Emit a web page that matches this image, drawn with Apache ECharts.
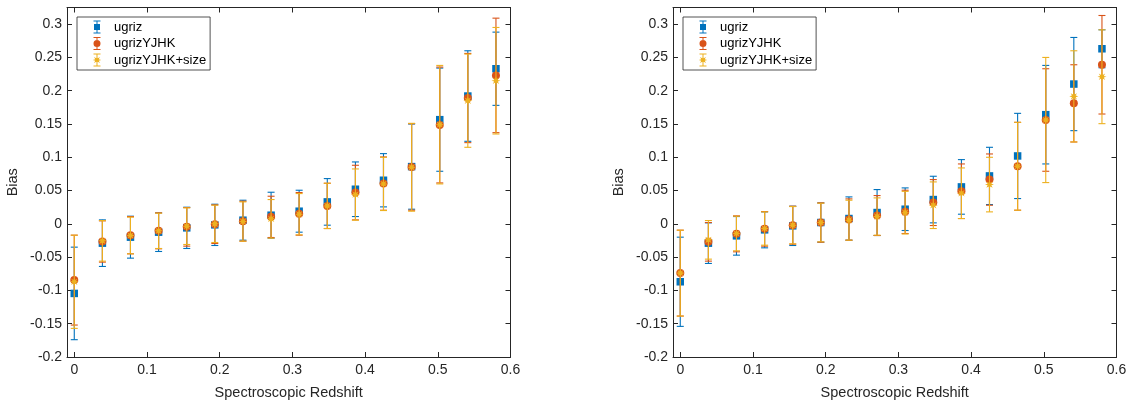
<!DOCTYPE html>
<html>
<head>
<meta charset="utf-8">
<script src="https://cdn.jsdelivr.net/npm/echarts@6/dist/echarts.min.js"></script>
<style>
html,body{margin:0;padding:0;background:#fff;}
#chart{width:1132px;height:405px;}
</style>
</head>
<body>
<div id="chart"></div>
<script>
// ---------- data ----------
const seriesNames = ['ugriz', 'ugrizYJHK', 'ugrizYJHK+size'];
const redshift = [0, 0.0387, 0.0773, 0.116, 0.1547, 0.1933, 0.232, 0.2707, 0.3093, 0.348, 0.3867, 0.4253, 0.464, 0.5027, 0.5413, 0.58];
const xTicks = [0, 0.1, 0.2, 0.3, 0.4, 0.5, 0.6];
const yTicks = [-0.2, -0.15, -0.1, -0.05, 0, 0.05, 0.1, 0.15, 0.2, 0.25, 0.3];

// left panel
const leftUgriz      = [-0.1045, -0.029, -0.02, -0.0125, -0.006, -0.0015, 0.0055, 0.013, 0.019, 0.033, 0.052, 0.0655, 0.086, 0.1565, 0.192, 0.233];
const leftUgrizErr   = [0.0695, 0.035, 0.0315, 0.029, 0.031, 0.031, 0.030, 0.0345, 0.0315, 0.035, 0.041, 0.040, 0.064, 0.0775, 0.068, 0.055];
const leftYJHK       = [-0.0845, -0.0265, -0.017, -0.0105, -0.0045, -0.0005, 0.004, 0.0105, 0.015, 0.027, 0.047, 0.0605, 0.0855, 0.1485, 0.189, 0.223];
const leftYJHKErr    = [0.0675, 0.031, 0.028, 0.027, 0.029, 0.029, 0.030, 0.031, 0.032, 0.034, 0.041, 0.040, 0.065, 0.087, 0.067, 0.086];
const leftSize       = [-0.087, -0.0255, -0.0175, -0.0105, -0.0035, 0, 0.0035, 0.0075, 0.0145, 0.027, 0.044, 0.060, 0.085, 0.149, 0.185, 0.215];
const leftSizeErr    = [0.070, 0.0305, 0.0275, 0.0265, 0.0275, 0.028, 0.0295, 0.029, 0.031, 0.034, 0.0385, 0.040, 0.066, 0.089, 0.070, 0.080];

// right panel
const rightUgriz     = [-0.087, -0.029, -0.018, -0.009, -0.003, 0.002, 0.008, 0.017, 0.022, 0.0365, 0.0555, 0.072, 0.102, 0.164, 0.21, 0.263];
const rightUgrizErr  = [0.067, 0.0305, 0.029, 0.027, 0.0295, 0.0295, 0.0325, 0.0345, 0.032, 0.035, 0.041, 0.043, 0.064, 0.074, 0.070, 0.0285];
const rightYJHK      = [-0.074, -0.027, -0.015, -0.0075, -0.002, 0.002, 0.0065, 0.0125, 0.018, 0.032, 0.049, 0.0665, 0.0865, 0.156, 0.181, 0.239];
const rightYJHKErr   = [0.0645, 0.029, 0.027, 0.026, 0.0285, 0.0295, 0.031, 0.030, 0.0325, 0.0345, 0.041, 0.0385, 0.066, 0.077, 0.058, 0.074];
const rightSize      = [-0.074, -0.024, -0.0145, -0.007, -0.002, 0.002, 0.0055, 0.011, 0.0168, 0.028, 0.046, 0.059, 0.0865, 0.156, 0.1915, 0.221];
const rightSizeErr   = [0.0645, 0.029, 0.026, 0.025, 0.028, 0.029, 0.030, 0.028, 0.032, 0.035, 0.038, 0.041, 0.066, 0.094, 0.0685, 0.0705];

// ---------- styles ----------
const colors = ['#0072BD', '#D95319', '#EDB120'];
const axisColor = '#262626';
const fontFamily = '"Liberation Sans", Arial, Helvetica, sans-serif';

function starPath(cx, cy, ro, ri, n) {
  let d = '';
  for (let k = 0; k < 2 * n; k++) {
    const r = k % 2 === 0 ? ro : ri;
    const a = -Math.PI / 2 + k * Math.PI / n;
    d += (k === 0 ? 'M' : 'L') + (cx + r * Math.cos(a)).toFixed(2) + ',' + (cy + r * Math.sin(a)).toFixed(2);
  }
  return d + 'Z';
}
const starSymbol = 'path://' + starPath(5, 5, 5, 2.2, 8);

const iconFrame = 'M0,0h0.05v0.05h-0.05Z M24,14h-0.05v-0.05h0.05Z ';
const iconBar = 'M8.5,0.5h7v1h-7Z M8.5,12.5h7v1h-7Z M11.5,1h1v12h-1Z ';
const legendIcons = [
  'path://' + iconFrame + iconBar + 'M9,4h6v6h-6Z',
  'path://' + iconFrame + iconBar + 'M15.5,7A3.5,3.5 0 1 1 8.5,7A3.5,3.5 0 1 1 15.5,7Z',
  'path://' + iconFrame + iconBar + starPath(12, 7, 4.2, 1.9, 8)
];
const markerSymbols = ['rect', 'circle', starSymbol];
const markerSizes = [7.5, 8, 9];

function errRenderer(color) {
  return function (params, api) {
    const x = api.value(0), lo = api.value(1), hi = api.value(2);
    const pt = api.coord([x, hi]);
    const pb = api.coord([x, lo]);
    const hw = 3.5;
    const st = { stroke: color, lineWidth: 1.1, fill: null };
    return {
      type: 'group',
      children: [
        { type: 'line', shape: { x1: pt[0], y1: pt[1], x2: pb[0], y2: pb[1] }, style: st },
        { type: 'line', shape: { x1: pt[0] - hw, y1: pt[1], x2: pt[0] + hw, y2: pt[1] }, style: st },
        { type: 'line', shape: { x1: pb[0] - hw, y1: pb[1], x2: pb[0] + hw, y2: pb[1] }, style: st }
      ]
    };
  };
}

function makeSeries(panel, centers, errs) {
  const out = [];
  centers.forEach((c, s) => {
    const e = errs[s];
    out.push({
      name: seriesNames[s],
      type: 'custom',
      xAxisIndex: panel * 2,
      yAxisIndex: panel * 2,
      z: 2 + s * 2,
      itemStyle: { color: colors[s] },
      renderItem: errRenderer(colors[s]),
      encode: { x: 0, y: [1, 2] },
      data: redshift.map((x, i) => [x, c[i] - e[i], c[i] + e[i]]),
      silent: true
    });
    out.push({
      name: seriesNames[s],
      type: 'scatter',
      xAxisIndex: panel * 2,
      yAxisIndex: panel * 2,
      z: 3 + s * 2,
      symbol: markerSymbols[s],
      symbolSize: markerSizes[s],
      itemStyle: { color: colors[s], opacity: 1 },
      data: redshift.map((x, i) => [x, c[i]]),
      silent: true
    });
  });
  return out;
}

function fmt(v) { return String(Number(v.toFixed(3))); }

function xAxes(gridIndex) {
  const base = {
    type: 'value', gridIndex: gridIndex, min: -0.01, max: 0.6,
    splitLine: { show: false },
    axisLine: { show: true, onZero: false, lineStyle: { color: axisColor, width: 1 } },
    axisTick: { show: true, inside: true, length: 5, customValues: xTicks, lineStyle: { color: axisColor } }
  };
  return [
    Object.assign({}, base, {
      position: 'bottom',
      name: 'Spectroscopic Redshift', nameLocation: 'middle', nameGap: 28,
      nameTextStyle: { fontSize: 14.5, color: axisColor, fontFamily: fontFamily },
      axisLabel: { show: true, customValues: xTicks, formatter: fmt, fontSize: 14, color: axisColor, fontFamily: fontFamily, margin: 6 }
    }),
    Object.assign({}, base, { position: 'top', axisLabel: { show: false } })
  ];
}
function yAxes(gridIndex) {
  const base = {
    type: 'value', gridIndex: gridIndex, min: -0.2, max: 0.325,
    splitLine: { show: false },
    axisLine: { show: true, onZero: false, lineStyle: { color: axisColor, width: 1 } },
    axisTick: { show: true, inside: true, length: 5, customValues: yTicks, lineStyle: { color: axisColor } }
  };
  return [
    Object.assign({}, base, {
      position: 'left',
      name: 'Bias', nameLocation: 'middle', nameGap: 47,
      nameTextStyle: { fontSize: 14.5, color: axisColor, fontFamily: fontFamily },
      axisLabel: { show: true, customValues: yTicks, formatter: fmt, fontSize: 14, color: axisColor, fontFamily: fontFamily, margin: 5 }
    }),
    Object.assign({}, base, { position: 'right', axisLabel: { show: false } })
  ];
}

function legendFor(left) {
  return {
    left: left, top: 17, orient: 'vertical',
    padding: [3, 4, 3, 8],
    itemWidth: 24, itemHeight: 14, itemGap: 2.5,
    borderColor: axisColor, borderWidth: 0.8,
    backgroundColor: '#fff',
    selectedMode: false,
    textStyle: { fontSize: 13, color: '#000', fontFamily: fontFamily },
    data: seriesNames.map((n, i) => ({ name: n, icon: legendIcons[i], itemStyle: { color: colors[i] } }))
  };
}

const chart = echarts.init(document.getElementById('chart'), null, { renderer: 'canvas' });
chart.setOption({
  animation: false,
  backgroundColor: '#fff',
  grid: [
    { left: 67, top: 7.5, width: 443.5, height: 350, containLabel: false },
    { left: 673, top: 7.5, width: 443.5, height: 350, containLabel: false }
  ],
  xAxis: xAxes(0).concat(xAxes(1)),
  yAxis: yAxes(0).concat(yAxes(1)),
  legend: [legendFor(77), legendFor(683)],
  series: makeSeries(0, [leftUgriz, leftYJHK, leftSize], [leftUgrizErr, leftYJHKErr, leftSizeErr])
    .concat(makeSeries(1, [rightUgriz, rightYJHK, rightSize], [rightUgrizErr, rightYJHKErr, rightSizeErr]))
});
</script>
</body>
</html>
